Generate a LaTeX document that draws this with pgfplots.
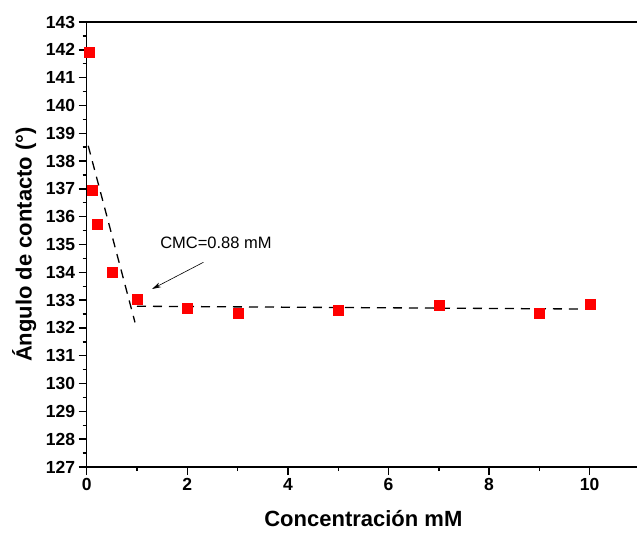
\documentclass[border=0pt]{standalone}
\usepackage{fontspec}
\setmainfont{Liberation Sans}
\usepackage{pgfplots}
\pgfplotsset{compat=1.18}
\usetikzlibrary{arrows.meta}
\begin{document}
\begin{tikzpicture}
\begin{axis}[
  scale only axis, width=553.3pt, height=445pt,
  xmin=0, xmax=11, ymin=127, ymax=143,
  xtick={0,2,4,6,8,10}, ytick={127,128,...,143},
  minor x tick num=1, minor y tick num=1,
  tick align=outside,
  xtick pos=bottom, ytick pos=left,
  major tick length=8pt, minor tick length=4pt,
  axis line style={line width=1.6pt},
  every tick/.append style={black, line width=1.4pt},
  ticklabel style={font=\bfseries\fontsize{17.5}{20}\selectfont},
  /pgf/number format/assume math mode=true,
  xlabel={Concentración mM},
  ylabel={Ángulo de contacto (°)},
  label style={font=\bfseries\fontsize{22}{26}\selectfont},
  xlabel style={at={(axis description cs:0.5,-0.1335)}, anchor=base},
  ylabel style={at={(axis description cs:-0.0994,0.5)}, anchor=base},
]
\addplot[only marks, mark=square*, mark size=5pt, color=red, mark options={draw=red, fill=red, line width=0.2pt}] coordinates {
(0.05,141.93) (0.1,136.96) (0.2,135.72) (0.5,134.02) (1,133.04) (2,132.72) (3,132.54) (5,132.63) (7,132.83) (9,132.53) (10,132.84)};
\addplot[black, line width=1.3pt, dash pattern=on 9pt off 7pt] coordinates {(0.03,138.55) (0.96,132.2)};
\addplot[black, line width=1.3pt, dash pattern=on 9pt off 7pt] coordinates {(1.0,132.78) (9.85,132.68)};
\draw[-{Stealth[length=9pt,width=5pt]}, line width=0.6pt] (axis cs:2.32,134.36) -- (axis cs:1.3,133.4);
\node[font=\fontsize{16.5}{19}\selectfont] at (axis cs:2.57,135.06) {CMC=0.88 mM};
\end{axis}
\pgfresetboundingbox
\path[use as bounding box] (-86.7pt,-66pt) rectangle (550.3pt,467pt);
\end{tikzpicture}
\end{document}
